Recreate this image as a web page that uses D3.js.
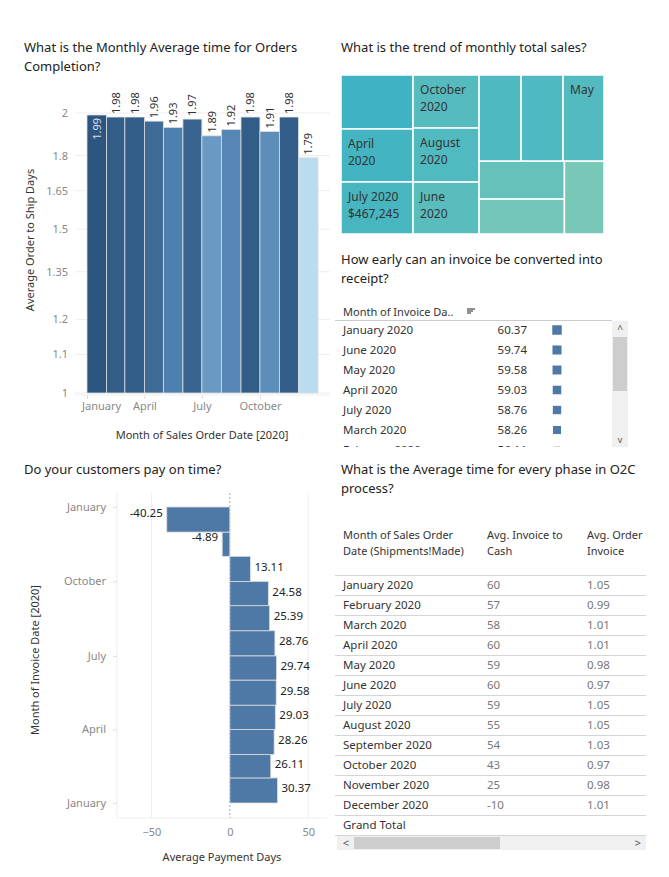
<!DOCTYPE html>
<html><head><meta charset="utf-8">
<script src="https://cdn.jsdelivr.net/npm/d3@7"></script>
<style>
body{margin:0;background:#fff;font-family:"Noto Sans",sans-serif;}
svg text{font-family:"Noto Sans",sans-serif;}
</style></head><body>
<svg id="c" width="669" height="877"></svg>
<script>
var months = ['January','February','March','April','May','June','July','August','September','October','November','December'];
var shipDays = [1.99,1.98,1.98,1.96,1.93,1.97,1.89,1.92,1.98,1.91,1.98,1.79];
var shipTicks = [1,1.1,1.2,1.35,1.5,1.65,1.8,2];
// treemap groups (month, sales)
var salesTree = {dir:'dice', children:[
  {dir:'slice', children:[{m:'January',v:485000},{m:'April',v:476000,label:'April\n2020'},{m:'July',v:467245,label:'July 2020\n$467,245'}]},
  {dir:'slice', children:[{m:'October',v:437000,label:'October\n2020'},{m:'August',v:445000,label:'August\n2020'},{m:'June',v:428000,label:'June\n2020'}]},
  {dir:'slice', children:[
    {dir:'dice', children:[{m:'March',v:451000},{m:'September',v:451000},{m:'May',v:440000,label:'May'}]},
    {dir:'dice', children:[{dir:'slice',children:[{m:'November',v:403000},{m:'December',v:371000}]},{m:'February',v:359000}]}
  ]}
]};
var invMonths = ['January 2020','June 2020','May 2020','April 2020','July 2020','March 2020','February 2020'];
var invDays = [60.37,59.74,59.58,59.03,58.76,58.26,56.11];
var payDays = [30.37,26.11,28.26,29.03,29.58,29.74,28.76,25.39,24.58,13.11,-4.89,-40.25];
var o2cInvCash = [60,57,58,60,59,60,59,55,54,43,25,-10];
var o2cOrdInv = [1.05,0.99,1.01,1.01,0.98,0.97,1.05,1.05,1.03,0.97,0.98,1.01];

var svg = d3.select('#c');
function title(x,y,lines){
  var t = svg.append('text').attr('x',x).attr('y',y).attr('font-size',13).attr('fill','#222');
  lines.forEach(function(l,i){ t.append('tspan').attr('x',x).attr('dy',i?19:0).text(l); });
}
var grid = '#eeeeee', tickCol = '#888';

// ---- chart 1: order to ship days
title(24,52,['What is the Monthly Average time for Orders','Completion?']);
var x1 = d3.scaleTime().domain([new Date(2020,0,1),new Date(2021,0,1)]).range([87,318]);
var y1 = d3.scaleLog().domain([1,2.05]).range([393,103]);
var g1 = svg.append('g');
shipTicks.forEach(function(t){
  g1.append('line').attr('x1',75).attr('x2',330).attr('y1',y1(t)).attr('y2',y1(t)).attr('stroke',grid);
  g1.append('text').attr('x',68).attr('y',y1(t)+4).attr('text-anchor','end').attr('font-size',11).attr('fill',tickCol).text(t);
});
g1.append('line').attr('x1',75).attr('x2',330).attr('y1',395).attr('y2',395).attr('stroke',grid);
var c1 = d3.scaleLinear().domain([1.79,1.89,1.93,1.99]).range(['#b9dcef','#6a9ac4','#4f7fae','#2c5680']);
g1.selectAll('rect').data(shipDays).enter().append('rect')
  .attr('x',function(d,i){ return x1(new Date(2020,i,1)); })
  .attr('width',function(d,i){ return x1(new Date(2020,i+1,1))-x1(new Date(2020,i,1)); })
  .attr('y',function(d){ return y1(d); })
  .attr('height',function(d){ return 393-y1(d); })
  .attr('fill',function(d){ return c1(d); }).attr('stroke','#ddd').attr('stroke-width',0.8);
g1.selectAll('.lbl').data(shipDays).enter().append('text')
  .attr('transform',function(d,i){
    var cx = (x1(new Date(2020,i,1))+x1(new Date(2020,i+1,1)))/2+4;
    return i===0 ? 'translate('+cx+','+(y1(d)+3)+') rotate(-90)' : 'translate('+cx+','+(y1(d)-3)+') rotate(-90)';
  })
  .attr('text-anchor',function(d,i){ return i===0?'end':'start'; })
  .attr('font-size',11).attr('fill',function(d,i){ return i===0?'#dde':'#333'; })
  .text(function(d){ return d.toFixed(2); });
var ax1 = g1.append('g').attr('transform','translate(0,395)')
  .call(d3.axisBottom(x1).tickValues([0,3,6,9].map(function(m){return new Date(2020,m,1);})).tickFormat(d3.timeFormat('%B')).tickSize(4));
ax1.select('.domain').remove();
ax1.selectAll('line').attr('stroke','#ddd');
ax1.selectAll('text').attr('font-size',11).attr('fill',tickCol).attr('dx',function(d,i){return i===0?14:0;});
svg.append('text').attr('x',202).attr('y',439).attr('text-anchor','middle').attr('font-size',11).attr('fill','#333').text('Month of Sales Order Date [2020]');
svg.append('text').attr('transform','translate(34,240) rotate(-90)').attr('text-anchor','middle').attr('font-size',11).attr('fill','#333').text('Average Order to Ship Days');

// ---- chart 2: treemap
title(341,52,['What is the trend of monthly total sales?']);
var root = d3.hierarchy(salesTree).sum(function(d){ return d.v||0; });
d3.treemap().size([263,159]).padding(0).tile(function(node,a,b,c,e){
  (node.data.dir==='dice'?d3.treemapDice:d3.treemapSlice)(node,a,b,c,e);
})(root);
var leaves = root.leaves();
var c2 = d3.scaleLinear().domain([359000,485000]).range(['#78c8b8','#3fb3c3']);
var g2 = svg.append('g').attr('transform','translate(341,75)');
g2.selectAll('rect').data(leaves).enter().append('rect')
  .attr('x',function(d){return d.x0;}).attr('y',function(d){return d.y0;})
  .attr('width',function(d){return d.x1-d.x0;}).attr('height',function(d){return d.y1-d.y0;})
  .attr('fill',function(d){return c2(d.data.v);}).attr('stroke','#fff').attr('stroke-width',1.5);
leaves.filter(function(d){return d.data.label;}).forEach(function(d){
  var t = g2.append('text').attr('font-size',12).attr('fill','#333');
  d.data.label.split('\n').forEach(function(l,i){
    t.append('tspan').attr('x',d.x0+7).attr('y',d.y0+19+i*17).text(l);
  });
});

// ---- chart 3: invoice list
title(341,264,['How early can an invoice be converted into','receipt?']);
svg.append('text').attr('x',343).attr('y',316).attr('font-size',11).attr('fill','#333').text('Month of Invoice Da..');
[0,4,8].forEach(function(dy,i){ svg.append('line').attr('x1',467).attr('x2',475-i*2).attr('y1',309+dy/2).attr('y2',309+dy/2).attr('stroke','#555').attr('stroke-width',1.3); });
svg.append('line').attr('x1',335).attr('x2',612).attr('y1',320.5).attr('y2',320.5).attr('stroke','#ccc');
var clip = svg.append('clipPath').attr('id','cl3'); clip.append('rect').attr('x',335).attr('y',321).attr('width',280).attr('height',126);
var g3 = svg.append('g').attr('clip-path','url(#cl3)');
var sq = d3.scaleLinear().domain([56,60.4]).range([6.5,9.5]);
invMonths.forEach(function(m,i){
  var y = 334+i*20;
  g3.append('text').attr('x',343).attr('y',y).attr('font-size',11.5).attr('fill','#333').text(m);
  g3.append('text').attr('x',527).attr('y',y).attr('text-anchor','end').attr('font-size',11.5).attr('fill','#333').text(invDays[i].toFixed(2));
  var s = sq(invDays[i]);
  g3.append('rect').attr('x',557-s/2).attr('y',y-4-s/2).attr('width',s).attr('height',s).attr('fill','#4e79a7');
});
svg.append('rect').attr('x',612).attr('y',321).attr('width',16).attr('height',126).attr('fill','#f0f0f0');
svg.append('rect').attr('x',613).attr('y',337).attr('width',14).attr('height',54).attr('fill','#cdcdcd');
svg.append('text').attr('x',620).attr('y',333).attr('text-anchor','middle').attr('font-size',10).attr('fill','#555').text('^');
svg.append('text').attr('x',620).attr('y',443).attr('text-anchor','middle').attr('font-size',9).attr('fill','#555').text('v');

// ---- chart 4: payment days
title(24,474,['Do your customers pay on time?']);
var x4 = d3.scaleLinear().domain([-72,62]).range([117,327]);
var y4 = d3.scaleTime().domain([new Date(2020,0,1),new Date(2021,0,1)]).range([803,507]);
var g4 = svg.append('g');
[-50,0,50].forEach(function(t){
  if(t!==0) g4.append('line').attr('x1',x4(t)).attr('x2',x4(t)).attr('y1',493).attr('y2',818).attr('stroke',grid);
});
g4.append('line').attr('x1',117).attr('x2',327).attr('y1',818).attr('y2',818).attr('stroke',grid);
g4.append('line').attr('x1',117).attr('x2',117).attr('y1',493).attr('y2',818).attr('stroke',grid);
g4.append('line').attr('x1',x4(0)).attr('x2',x4(0)).attr('y1',493).attr('y2',818).attr('stroke','#aaa').attr('stroke-dasharray','2,2');
g4.selectAll('rect').data(payDays).enter().append('rect')
  .attr('x',function(d){ return x4(Math.min(0,d)); })
  .attr('width',function(d){ return Math.abs(x4(d)-x4(0)); })
  .attr('y',function(d,i){ return y4(new Date(2020,i+1,1)); })
  .attr('height',function(d,i){ return y4(new Date(2020,i,1))-y4(new Date(2020,i+1,1)); })
  .attr('fill','#4e79a7').attr('stroke','#ddd').attr('stroke-width',0.8);
g4.selectAll('.pl').data(payDays).enter().append('text')
  .attr('x',function(d){ return d<0 ? x4(d)-4 : x4(d)+4; })
  .attr('y',function(d,i){ return (y4(new Date(2020,i,1))+y4(new Date(2020,i+1,1)))/2+(d<0?-3:2); })
  .attr('text-anchor',function(d){ return d<0?'end':'start'; })
  .attr('font-size',11.5).attr('fill','#222').text(function(d){ return d.toFixed(2); });
var ay4 = g4.append('g').attr('transform','translate(117,0)')
  .call(d3.axisLeft(y4).tickValues([0,3,6,9,12].map(function(m){return new Date(2020,m,1);})).tickFormat(d3.timeFormat('%B')).tickSize(4).tickPadding(7));
ay4.select('.domain').remove();
ay4.selectAll('line').attr('stroke','#ddd');
ay4.selectAll('text').attr('font-size',11).attr('fill',tickCol);
var ax4 = g4.append('g').attr('transform','translate(0,818)').call(d3.axisBottom(x4).tickValues([-50,0,50]).tickSize(0).tickPadding(10));
ax4.select('.domain').remove();
ax4.selectAll('text').attr('font-size',11).attr('fill',tickCol);
svg.append('text').attr('x',222).attr('y',861).attr('text-anchor','middle').attr('font-size',11).attr('fill','#333').text('Average Payment Days');
svg.append('text').attr('transform','translate(39,660) rotate(-90)').attr('text-anchor','middle').attr('font-size',11).attr('fill','#333').text('Month of Invoice Date [2020]');

// ---- chart 5: O2C table
title(341,474,['What is the Average time for every phase in O2C','process?']);
var clip5 = svg.append('clipPath').attr('id','cl5'); clip5.append('rect').attr('x',335).attr('y',520).attr('width',311).attr('height',340);
var g5 = svg.append('g').attr('clip-path','url(#cl5)');
[['Month of Sales Order','Date (Shipments!Made)'],['Avg. Invoice to','Cash'],['Avg. Order to','Invoice']].forEach(function(h,i){
  var xx = [343,487,587][i];
  h.forEach(function(l,j){ g5.append('text').attr('x',xx).attr('y',539+j*16).attr('font-size',11).attr('fill','#333').text(l); });
});
var rowY = d3.scaleLinear().domain([0,1]).range([575,595]);
for(var i=0;i<=13;i++){
  g5.append('line').attr('x1',335).attr('x2',646).attr('y1',rowY(i)+0.5).attr('y2',rowY(i)+0.5).attr('stroke','#d5d5d5');
}
months.concat(['Grand Total']).forEach(function(m,i){
  var y = rowY(i)+14;
  g5.append('text').attr('x',343).attr('y',y).attr('font-size',11.5).attr('fill','#333').text(i<12? m+' 2020' : m);
  if(i<12){
    g5.append('text').attr('x',487).attr('y',y).attr('font-size',11.5).attr('fill','#777').text(o2cInvCash[i]);
    g5.append('text').attr('x',587).attr('y',y).attr('font-size',11.5).attr('fill','#777').text(o2cOrdInv[i].toFixed(2));
  }
});
svg.append('rect').attr('x',337).attr('y',836).attr('width',309).attr('height',14).attr('fill','#f0f0f0');
svg.append('rect').attr('x',354).attr('y',837).attr('width',146).attr('height',12).attr('fill','#cdcdcd');
svg.append('text').attr('x',346).attr('y',847).attr('text-anchor','middle').attr('font-size',11).attr('fill','#555').text('<');
svg.append('text').attr('x',638).attr('y',847).attr('text-anchor','middle').attr('font-size',11).attr('fill','#555').text('>');
</script></body></html>
